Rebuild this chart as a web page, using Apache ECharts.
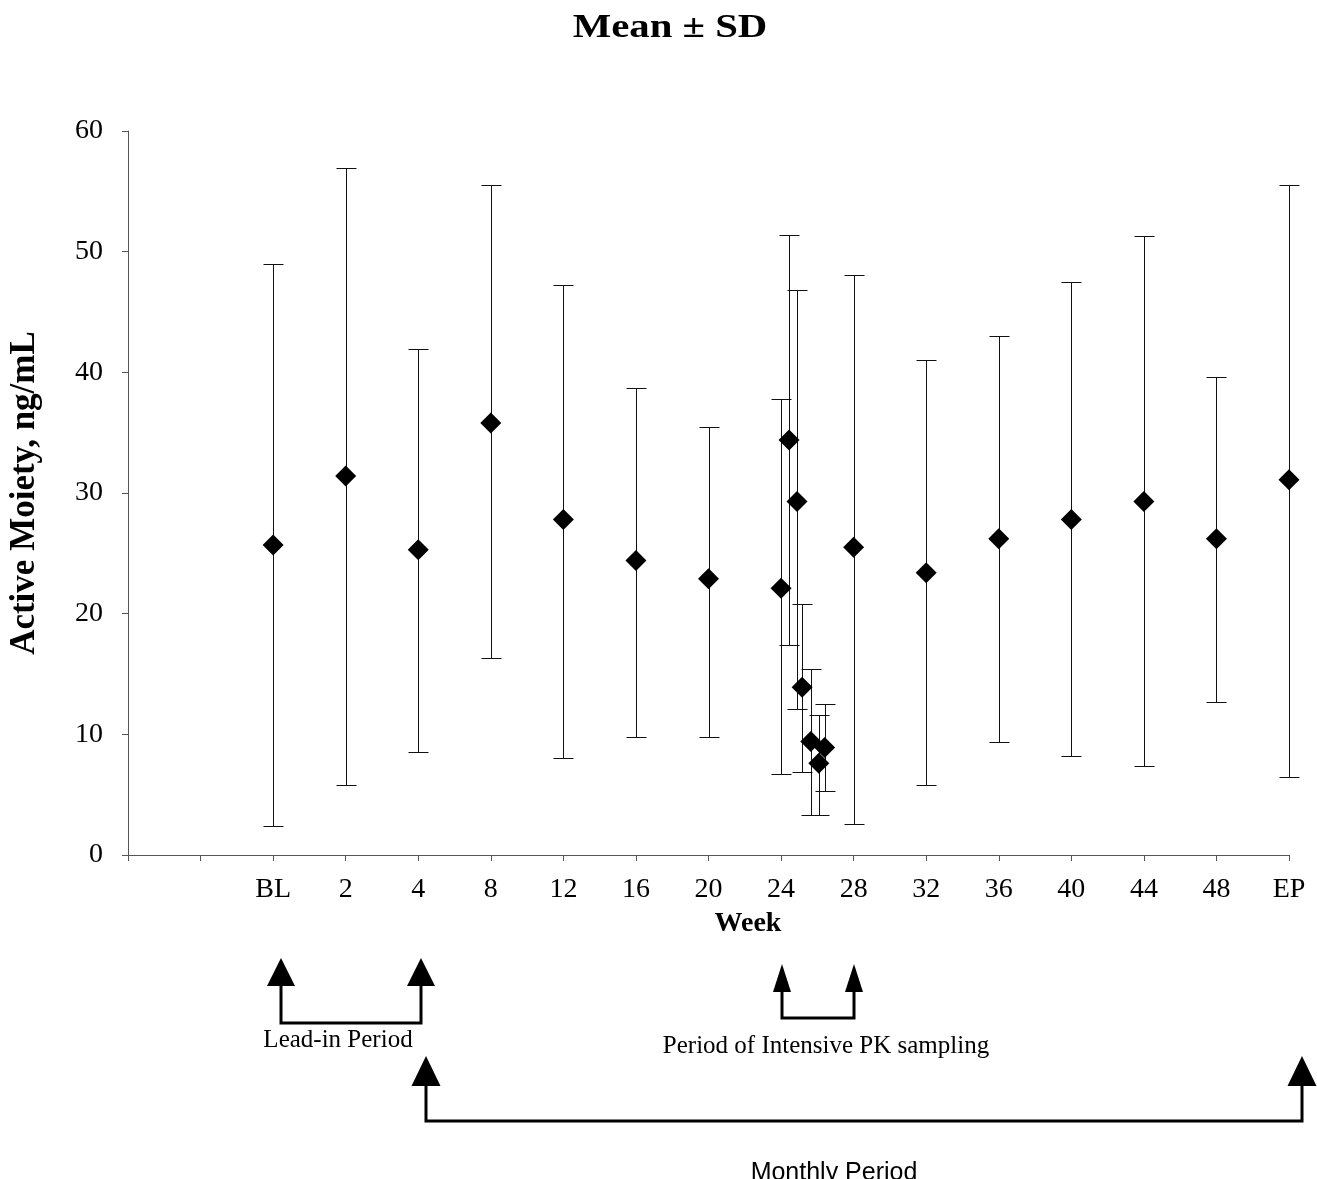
<!DOCTYPE html>
<html>
<head>
<meta charset="utf-8">
<script src="https://cdn.jsdelivr.net/npm/echarts@6/dist/echarts.min.js"></script>
<style>html,body{margin:0;padding:0;background:#fff}#chart{width:1317px;height:1179px}</style>
</head>
<body>
<div id="chart"></div>
<script>
const xTickLabels = ['', '', 'BL', '2', '4', '8', '12', '16', '20', '24', '28', '32', '36', '40', '44', '48', 'EP'];
const xPositions = [2, 3, 4, 5, 6, 7, 8, 9, 9.11, 9.22, 9.29, 9.41, 9.52, 9.60, 10, 11, 12, 13, 14, 15, 16];
const meanValues = [25.7, 31.4, 25.3, 35.8, 27.8, 24.4, 22.9, 22.1, 34.4, 29.3, 13.9, 9.4, 7.6, 8.9, 25.5, 23.4, 26.2, 27.8, 29.3, 26.2, 31.1];
const upperValues = [49.0, 56.9, 41.9, 55.5, 47.2, 38.7, 35.5, 37.8, 51.4, 46.8, 20.8, 15.4, 11.6, 12.5, 48.1, 41.0, 43.0, 47.5, 51.3, 39.6, 55.5];
const lowerValues = [2.4, 5.8, 8.5, 16.3, 8.0, 9.8, 9.8, 6.7, 17.4, 12.1, 6.9, 3.3, 3.3, 5.3, 2.6, 5.8, 9.4, 8.2, 7.4, 12.7, 6.5];

const serif = '"Liberation Serif", "Times New Roman", serif';
const sans = '"Liberation Sans", Arial, sans-serif';

const chart = echarts.init(document.getElementById('chart'));

function arrow(x, yTop, yBase, w) {
  return {
    type: 'polygon',
    shape: { points: [[x, yTop], [x - w / 2, yBase], [x + w / 2, yBase]] },
    style: { fill: '#000' }
  };
}
function bracket(x1, x2, yBase, yLine) {
  return {
    type: 'polyline',
    shape: { points: [[x1, yBase - 1], [x1, yLine], [x2, yLine], [x2, yBase - 1]] },
    style: { stroke: '#000', lineWidth: 3, fill: null }
  };
}

const option = {
  backgroundColor: '#fff',
  animation: false,
  grid: { left: 128, right: 28, top: 131, bottom: 324, containLabel: false, outerBoundsMode: 'none' },
  xAxis: {
    type: 'value', min: 0, max: 16, interval: 1,
    splitLine: { show: false },
    axisLine: { show: true, lineStyle: { color: '#555', width: 1 } },
    axisTick: { show: true, length: 6, lineStyle: { color: '#555' } },
    axisLabel: {
      margin: 21, color: '#000', fontFamily: serif, fontSize: 28,
      formatter: v => xTickLabels[Math.round(v)] || ''
    }
  },
  yAxis: {
    type: 'value', min: 0, max: 60, interval: 10,
    name: 'Active Moiety, ng/mL', nameLocation: 'middle', nameGap: 86,
    nameTextStyle: { fontFamily: serif, fontSize: 35, fontWeight: 'bold', color: '#000' },
    splitLine: { show: false },
    axisLine: { show: true, lineStyle: { color: '#555', width: 1 } },
    axisTick: { show: true, length: 6, lineStyle: { color: '#555' } },
    axisLabel: { margin: 25, color: '#000', fontFamily: serif, fontSize: 28 }
  },
  series: [
    {
      type: 'custom',
      data: xPositions.map((x, i) => [x, lowerValues[i], upperValues[i]]),
      encode: { x: 0, y: [1, 2] },
      renderItem: function (params, api) {
        const lo = api.coord([api.value(0), api.value(1)]);
        const hi = api.coord([api.value(0), api.value(2)]);
        const x = Math.round(lo[0]) + 0.5;
        const yl = Math.round(lo[1]) + 0.5, yh = Math.round(hi[1]) + 0.5;
        const hw = 10;
        const st = { stroke: '#111', lineWidth: 1 };
        return {
          type: 'group',
          children: [
            { type: 'line', shape: { x1: x, y1: yl, x2: x, y2: yh }, style: st },
            { type: 'line', shape: { x1: x - hw, y1: yh, x2: x + hw, y2: yh }, style: st },
            { type: 'line', shape: { x1: x - hw, y1: yl, x2: x + hw, y2: yl }, style: st }
          ]
        };
      },
      z: 2
    },
    {
      type: 'scatter',
      data: xPositions.map((x, i) => [x, meanValues[i]]),
      symbol: 'diamond', symbolSize: 21,
      itemStyle: { color: '#000', opacity: 1 },
      z: 3
    }
  ],
  graphic: [
    {
      type: 'text', x: 670, y: 28, scaleX: 1.2,
      style: { text: 'Mean ± SD', x: 0, y: 0, align: 'center', verticalAlign: 'middle',
        font: 'bold 34px ' + serif, fill: '#000' }
    },
    {
      type: 'text',
      style: { text: 'Week', x: 748, y: 924, align: 'center', verticalAlign: 'middle',
        font: 'bold 28px ' + serif, fill: '#000' }
    },
    arrow(281, 958, 986, 28), arrow(421, 958, 986, 28), bracket(281, 421, 986, 1023),
    {
      type: 'text',
      style: { text: 'Lead-in Period', x: 338, y: 1040, align: 'center', verticalAlign: 'middle',
        font: '25px ' + serif, fill: '#000' }
    },
    arrow(782, 964, 992, 18), arrow(854, 964, 992, 18), bracket(782, 854, 992, 1018),
    {
      type: 'text',
      style: { text: 'Period of Intensive PK sampling', x: 826, y: 1046, align: 'center', verticalAlign: 'middle',
        font: '25px ' + serif, fill: '#000' }
    },
    arrow(426, 1056, 1086, 29), arrow(1302, 1056, 1086, 29), bracket(426, 1302, 1086, 1121),
    {
      type: 'text',
      style: { text: 'Monthly Period', x: 834, y: 1173, align: 'center', verticalAlign: 'middle',
        font: '25px ' + sans, fill: '#000' }
    }
  ]
};
chart.setOption(option);
</script>
</body>
</html>
